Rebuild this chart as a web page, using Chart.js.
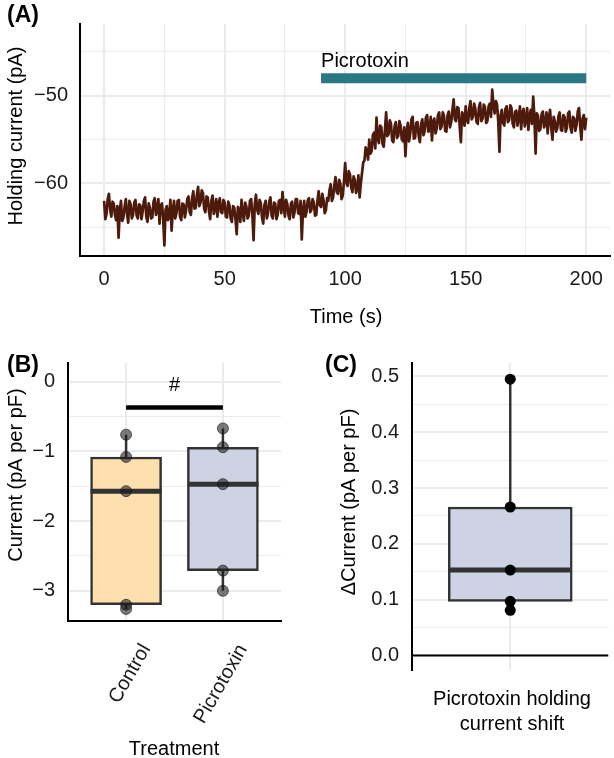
<!DOCTYPE html>
<html>
<head>
<meta charset="utf-8">
<script src="https://cdn.jsdelivr.net/npm/chart.js@4.4.0/dist/chart.umd.min.js"></script>
<style>
  html, body { margin: 0; padding: 0; background: #fff; }
  #wrap { position: relative; width: 614px; height: 758px; }
  canvas { position: absolute; }
</style>
</head>
<body>
<div id="wrap">
  <canvas id="chartA" width="614" height="330" style="left:0;top:0"></canvas>
  <canvas id="chartB" width="300" height="428" style="left:0;top:330px"></canvas>
  <canvas id="chartC" width="314" height="428" style="left:300px;top:330px"></canvas>
</div>
<script>
const FONT = '"Liberation Sans", Arial, Helvetica, sans-serif';

// ---- Panel A: holding current trace (two readings per second) ----
const SAMPLE_DT = 0.5; // s
const HOLDING_PA = [
  -62.0, -64.1, -63.5, -61.8, -61.2, -63.0, -63.8, -62.1, -62.3, -63.6, -64.2, -62.6, -66.2, -63.1, -62.0, -64.3, -63.9, -62.7, -61.8, -63.5,
  -64.5, -62.0, -62.4, -64.0, -63.6, -62.2, -61.9, -63.7, -64.0, -62.4, -62.5, -64.1, -63.2, -62.0, -61.6, -63.8, -64.4, -62.3, -62.8, -64.0,
  -63.9, -62.1, -61.7, -63.6, -63.0, -61.8, -64.6, -62.5, -62.3, -64.0, -67.1, -63.0, -62.6, -64.2, -63.7, -61.9, -65.4, -63.1, -62.0, -64.0,
  -63.4, -62.0, -61.9, -63.8, -64.2, -62.3, -62.4, -63.9, -63.1, -61.8, -61.5, -63.3, -63.6, -61.7, -60.9, -62.9, -62.8, -61.3, -60.4, -62.6,
  -62.2, -60.8, -61.1, -62.9, -63.3, -61.5, -61.6, -63.2, -64.1, -62.0, -61.4, -63.5, -62.9, -61.8, -63.8, -62.3, -61.7, -63.3, -63.4, -61.9,
  -62.2, -63.8, -63.9, -62.1, -62.5, -64.0, -64.4, -62.6, -62.8, -64.1, -65.8, -62.7, -63.0, -64.4, -61.9, -63.4, -64.3, -62.2, -62.6, -64.0,
  -63.7, -62.0, -61.8, -63.6, -66.5, -62.4, -61.3, -63.0, -63.5, -61.9, -62.2, -63.9, -64.6, -62.5, -62.0, -64.0, -63.4, -62.1, -61.6, -63.7,
  -64.0, -62.2, -62.3, -64.1, -63.6, -62.0, -61.9, -63.4, -61.0, -62.6, -63.8, -61.9, -62.4, -63.7, -64.1, -62.3, -62.1, -63.9, -63.3, -61.8,
  -61.8, -63.4, -63.5, -62.0, -66.4, -63.1, -62.0, -63.8, -63.2, -61.9, -61.7, -63.3, -63.0, -61.8, -62.2, -63.7, -63.6, -62.0, -60.9, -62.5,
  -62.7, -61.2, -61.9, -63.4, -63.1, -61.7, -62.0, -60.8, -60.1, -62.0, -61.6, -60.2, -59.3, -61.0, -61.2, -59.6, -60.0, -61.8, -61.4, -59.8,
  -57.7, -59.9, -60.3, -58.6, -59.0, -60.4, -61.0, -59.2, -59.6, -61.1, -60.6, -59.1, -61.6, -60.0, -58.8, -57.6, -57.4, -55.9, -56.2, -57.3,
  -55.0, -56.6, -56.3, -54.5, -54.2, -56.0, -52.5, -54.9, -55.4, -53.4, -53.6, -55.5, -55.8, -53.9, -51.9, -54.6, -54.4, -52.8, -53.2, -55.1,
  -55.3, -53.5, -53.0, -54.8, -54.6, -52.9, -53.4, -55.0, -55.2, -53.6, -56.9, -54.2, -53.1, -55.2, -54.3, -52.7, -52.4, -54.9, -54.8, -53.1,
  -53.0, -54.6, -55.3, -53.2, -52.7, -54.5, -54.0, -52.5, -52.2, -54.1, -53.9, -52.4, -55.1, -53.0, -52.6, -54.3, -53.7, -52.2, -51.9, -53.8,
  -53.5, -51.9, -52.3, -54.0, -54.1, -52.2, -51.8, -53.6, -53.0, -51.6, -50.4, -52.7, -52.9, -51.3, -51.4, -53.5, -55.3, -51.9, -52.2, -53.4,
  -51.2, -52.8, -53.1, -51.4, -50.6, -52.7, -52.4, -50.9, -51.5, -53.0, -53.2, -51.3, -50.8, -52.9, -52.6, -51.0, -51.3, -53.1, -52.9, -51.2,
  -50.9, -52.4, -49.3, -51.0, -52.0, -50.6, -51.0, -52.9, -56.4, -52.2, -51.6, -53.1, -53.4, -51.5, -51.2, -53.0, -52.8, -51.1, -51.4, -53.2,
  -53.6, -51.8, -51.7, -53.4, -52.5, -51.2, -53.8, -52.0, -51.5, -53.5, -52.7, -51.4, -53.9, -52.3, -51.6, -53.2, -50.1, -52.4, -56.6, -52.0,
  -52.3, -54.0, -53.8, -52.1, -51.8, -53.6, -53.2, -51.9, -54.3, -52.5, -51.6, -53.7, -55.0, -52.4, -52.9, -54.1, -53.7, -52.3, -51.9, -53.9,
  -54.0, -52.2, -52.4, -54.1, -53.6, -52.0, -51.8, -53.7, -54.2, -52.4, -52.6, -54.0, -53.3, -51.8, -51.4, -53.5, -55.0, -52.6, -52.2, -53.8,
  -52.5
];
const DRUG_LABEL = 'Picrotoxin';
const DRUG_START = 90;   // s
const DRUG_END = 200;    // s
const DRUG_BAR_Y = -48;  // pA
const DRUG_LABEL_Y = -46.7;
const A_X_MAJOR = [0, 50, 100, 150, 200];
const A_X_MINOR = [25, 75, 125, 175];
const A_Y_MAJOR = [-60, -50];
const A_Y_MINOR = [-65, -55, -45];

// ---- Panel B: current density per group ----
const B_GROUPS = ['Control', 'Picrotoxin'];
const B_POINTS = [
  [-0.76, -1.08, -1.57, -3.20, -3.26],
  [-0.67, -0.94, -1.47, -2.71, -3.00]
];
const B_LOW  = [-3.26, -3.00];
const B_Q1   = [-3.20, -2.71];
const B_MED  = [-1.57, -1.47];
const B_Q3   = [-1.08, -0.94];
const B_HIGH = [-0.76, -0.67];
const B_FILLS = ['#fde0ae', '#cdd3e3'];
const B_SIG_Y = -0.37;
const B_SIG_LABEL = '#';
const B_SIG_LABEL_Y = -0.14;
const B_Y_MAJOR = [-3, -2, -1, 0];
const B_Y_MINOR = [-2.5, -1.5, -0.5];

// ---- Panel C: shift in current density ----
const C_GROUP = ['Picrotoxin holding', 'current shift'];
const C_POINTS = [0.495, 0.266, 0.153, 0.097, 0.081];
const C_LOW = 0.081, C_Q1 = 0.097, C_MED = 0.153, C_Q3 = 0.266, C_HIGH = 0.495;
const C_FILL = '#cdd3e3';
const C_Y_MAJOR = [0, 0.1, 0.2, 0.3, 0.4, 0.5];
const C_Y_MINOR = [0.05, 0.15, 0.25, 0.35, 0.45];

const GRID = '#ebebeb';
const INK = '#333333';
const TICK_COLOR = '#1a1a1a';

Chart.defaults.font.family = FONT;
Chart.defaults.font.size = 20;
Chart.defaults.color = TICK_COLOR;

const minus = v => String(v).replace('-', '\u2212');

function setTicks(values) {
  return scale => { scale.ticks = values.slice().sort((a, b) => a - b).map(v => ({ value: v })); };
}

function gridStyle(major) {
  return {
    color: GRID,
    lineWidth: ctx => (ctx.tick && major.includes(ctx.tick.value)) ? 2 : 1.1,
    drawTicks: false
  };
}

// draws plain text labels (titles, annotations) on top of a chart
function textLayer(items) {
  return {
    id: 'textLayer',
    afterDraw(chart) {
      const ctx = chart.ctx;
      items.forEach(it => {
        let x = it.x, y = it.y;
        if (it.data) {
          x = chart.scales.x.getPixelForValue(it.x);
          y = chart.scales.y.getPixelForValue(it.y);
        }
        ctx.save();
        ctx.font = it.font || ('20px ' + FONT);
        ctx.fillStyle = it.color || '#000';
        ctx.textAlign = it.align || 'left';
        ctx.textBaseline = 'alphabetic';
        ctx.translate(x, y);
        if (it.rotate) ctx.rotate(it.rotate);
        ctx.fillText(it.text, 0, 0);
        ctx.restore();
      });
    }
  };
}

const common = {
  responsive: false,
  animation: false,
  events: [],
  plugins: { legend: { display: false }, tooltip: { enabled: false } }
};

// box plot pieces built from the summary arrays
function whiskerData(pos, low, q1, q3, high) {
  return pos.flatMap((x, i) => [
    { x, y: q3[i] }, { x, y: high[i] }, { x, y: null },
    { x, y: low[i] }, { x, y: q1[i] }, { x, y: null }
  ]);
}
function medianData(pos, med, half) {
  return pos.flatMap((x, i) => [
    { x: x - half, y: med[i] }, { x: x + half, y: med[i] }, { x, y: null }
  ]);
}

// ================= Panel A =================
new Chart(document.getElementById('chartA'), {
  type: 'line',
  data: {
    datasets: [
      {
        data: HOLDING_PA.map((v, i) => ({ x: i * SAMPLE_DT, y: v })),
        borderColor: '#4d1a0b',
        borderWidth: 2.7,
        borderJoinStyle: 'round',
        pointRadius: 0,
        tension: 0,
        order: 1
      },
      {
        data: [{ x: DRUG_START, y: DRUG_BAR_Y }, { x: DRUG_END, y: DRUG_BAR_Y }],
        borderColor: '#2b7884',
        borderWidth: 10,
        borderCapStyle: 'butt',
        pointRadius: 0,
        order: 0
      }
    ]
  },
  options: {
    ...common,
    layout: { padding: { left: 0, top: 17, right: 2, bottom: 0 } },
    scales: {
      x: {
        type: 'linear', min: -10, max: 210,
        afterBuildTicks: setTicks([...A_X_MAJOR, ...A_X_MINOR]),
        afterFit: s => { s.height = 74; },
        grid: gridStyle(A_X_MAJOR),
        border: { display: true, color: '#000', width: 2 },
        ticks: {
          padding: 11, autoSkip: false, maxRotation: 0, minRotation: 0,
          callback: v => A_X_MAJOR.includes(v) ? String(v) : ''
        }
      },
      y: {
        type: 'linear', min: -68.3, max: -41.8,
        afterBuildTicks: setTicks([...A_Y_MAJOR, ...A_Y_MINOR]),
        afterFit: s => { s.width = 80; },
        grid: gridStyle(A_Y_MAJOR),
        border: { display: true, color: '#000', width: 2 },
        ticks: { padding: 12, callback: v => A_Y_MAJOR.includes(v) ? minus(v) : '' }
      }
    }
  },
  plugins: [textLayer([
    { text: '(A)', x: 7, y: 22, font: 'bold 23px ' + FONT },
    { text: 'Holding current (pA)', x: 22, y: 136, align: 'center', rotate: -Math.PI / 2 },
    { text: 'Time (s)', x: 346, y: 323, align: 'center' },
    { text: DRUG_LABEL, data: true, x: DRUG_START, y: DRUG_LABEL_Y, align: 'left' }
  ])]
});

// ================= Panel B =================
const B_POS = B_GROUPS.map((g, i) => i + 1);
const B_HALF = 0.367;

new Chart(document.getElementById('chartB'), {
  type: 'bar',
  data: {
    datasets: [
      {
        type: 'scatter',
        data: B_POINTS.flatMap((vals, g) => vals.map(v => ({ x: B_POS[g], y: v }))),
        pointRadius: 5.5,
        pointBackgroundColor: 'rgba(25,25,25,0.58)',
        pointBorderColor: 'rgba(25,25,25,0.65)',
        pointBorderWidth: 1,
        order: 0
      },
      {
        type: 'line',
        data: medianData(B_POS, B_MED, B_HALF),
        borderColor: INK, borderWidth: 5, borderCapStyle: 'butt',
        pointRadius: 0, spanGaps: false, order: 1
      },
      {
        type: 'bar',
        data: B_POS.map((x, i) => ({ x, y: [B_Q1[i], B_Q3[i]] })),
        backgroundColor: B_FILLS,
        borderColor: INK, borderWidth: 2.5, borderSkipped: false,
        barThickness: 71, order: 2
      },
      {
        type: 'line',
        data: whiskerData(B_POS, B_LOW, B_Q1, B_Q3, B_HIGH),
        borderColor: INK, borderWidth: 2.5, pointRadius: 0, spanGaps: false, order: 3
      },
      {
        type: 'line',
        data: [{ x: B_POS[0], y: B_SIG_Y }, { x: B_POS[1], y: B_SIG_Y }],
        borderColor: '#000', borderWidth: 4.5, borderCapStyle: 'butt',
        pointRadius: 0, order: 0
      }
    ]
  },
  options: {
    ...common,
    layout: { padding: { left: 0, top: 33, right: 19, bottom: 0 } },
    scales: {
      x: {
        type: 'linear', min: 0.4, max: 2.6, offset: false,
        afterBuildTicks: setTicks(B_POS),
        afterFit: s => { s.height = 137; },
        grid: { color: GRID, lineWidth: 2, drawTicks: false, offset: false },
        border: { display: true, color: '#000', width: 2 },
        ticks: {
          padding: 19, labelOffset: 20, autoSkip: false,
          minRotation: 60, maxRotation: 60,
          callback: v => B_GROUPS[v - 1]
        }
      },
      y: {
        type: 'linear', min: -3.433, max: 0.268,
        afterBuildTicks: setTicks([...B_Y_MAJOR, ...B_Y_MINOR]),
        afterFit: s => { s.width = 68; },
        grid: gridStyle(B_Y_MAJOR),
        border: { display: true, color: '#000', width: 2 },
        ticks: { padding: 13, callback: v => B_Y_MAJOR.includes(v) ? minus(v) : '' }
      }
    }
  },
  plugins: [textLayer([
    { text: '(B)', x: 7, y: 42, font: 'bold 23px ' + FONT },
    { text: 'Current (pA per pF)', x: 22, y: 145, align: 'center', rotate: -Math.PI / 2 },
    { text: 'Treatment', x: 174, y: 425, align: 'center' },
    { text: B_SIG_LABEL, data: true, x: (B_POS[0] + B_POS[1]) / 2, y: B_SIG_LABEL_Y, align: 'center' }
  ])]
});

// ================= Panel C =================
const C_POS = [1];
const C_HALF = 0.369;
const C_X_MIN = 0.4, C_X_MAX = 1.6;

new Chart(document.getElementById('chartC'), {
  type: 'bar',
  data: {
    datasets: [
      {
        type: 'scatter',
        data: C_POINTS.map(v => ({ x: C_POS[0], y: v })),
        pointRadius: 5.5,
        pointBackgroundColor: '#000',
        pointBorderColor: '#000',
        pointBorderWidth: 0,
        order: 0
      },
      {
        type: 'line',
        data: medianData(C_POS, [C_MED], C_HALF),
        borderColor: INK, borderWidth: 5, borderCapStyle: 'butt',
        pointRadius: 0, spanGaps: false, order: 1
      },
      {
        type: 'bar',
        data: [{ x: C_POS[0], y: [C_Q1, C_Q3] }],
        backgroundColor: C_FILL,
        borderColor: INK, borderWidth: 2.5, borderSkipped: false,
        barThickness: 124, order: 2
      },
      {
        type: 'line',
        data: whiskerData(C_POS, [C_LOW], [C_Q1], [C_Q3], [C_HIGH]),
        borderColor: INK, borderWidth: 2.5, pointRadius: 0, spanGaps: false, order: 3
      },
      {
        // reference line at zero
        type: 'line',
        data: [{ x: C_X_MIN, y: 0 }, { x: C_X_MAX, y: 0 }],
        borderColor: '#000', borderWidth: 2, pointRadius: 0, order: 4
      }
    ]
  },
  options: {
    ...common,
    layout: { padding: { left: 0, top: 33, right: 0, bottom: 0 } },
    scales: {
      x: {
        type: 'linear', min: C_X_MIN, max: C_X_MAX, offset: false,
        afterBuildTicks: setTicks(C_POS),
        afterFit: s => { s.height = 88; },
        grid: { color: GRID, lineWidth: 2, drawTicks: false, offset: false },
        border: { display: false },
        ticks: { display: false }
      },
      y: {
        type: 'linear', min: -0.026, max: 0.524,
        afterBuildTicks: setTicks([...C_Y_MAJOR, ...C_Y_MINOR]),
        afterFit: s => { s.width = 112; },
        grid: gridStyle(C_Y_MAJOR),
        border: { display: true, color: '#000', width: 2 },
        ticks: { padding: 13, callback: v => C_Y_MAJOR.includes(v) ? v.toFixed(1) : '' }
      }
    }
  },
  plugins: [textLayer([
    { text: '(C)', x: 25, y: 42, font: 'bold 23px ' + FONT },
    { text: '\u0394Current (pA per pF)', x: 55, y: 172, align: 'center', rotate: -Math.PI / 2 },
    { text: C_GROUP[0], x: 212, y: 375, align: 'center' },
    { text: C_GROUP[1], x: 212, y: 400, align: 'center' }
  ])]
});
</script>
</body>
</html>
